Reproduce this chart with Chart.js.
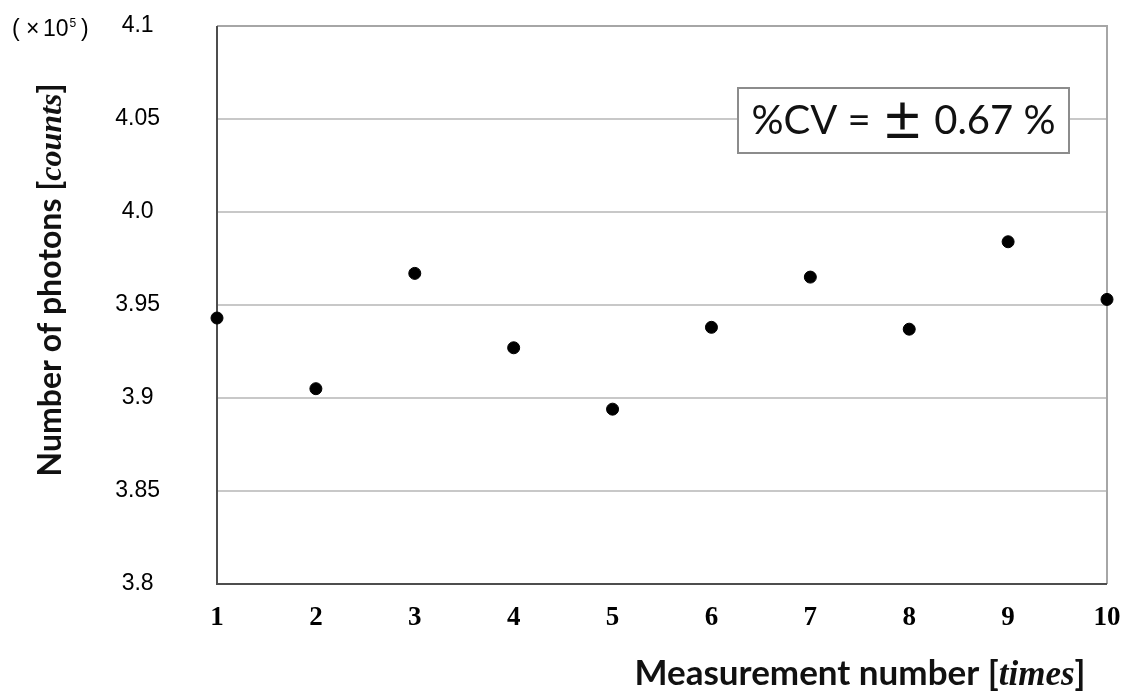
<!DOCTYPE html>
<html>
<head>
<meta charset="utf-8">
<title>Photon count repeatability</title>
<script src="https://cdn.jsdelivr.net/npm/chart.js@4.4.1/dist/chart.umd.min.js"></script>
<style>
  html, body { margin: 0; padding: 0; background: #fff; }
  #wrap { width: 1124px; height: 691px; }
</style>
</head>
<body>
<div id="wrap"><canvas id="photonChart" width="1124" height="691"></canvas></div>
<script>
  // measurement index and photon counts (x 10^5)
  const measurements = [1, 2, 3, 4, 5, 6, 7, 8, 9, 10];
  const photons = [3.943, 3.905, 3.967, 3.927, 3.894, 3.938, 3.965, 3.937, 3.984, 3.953];
  const yTickLabels = ["3.8", "3.85", "3.9", "3.95", "4.0", "4.05", "4.1"];

  const SANS = "'Liberation Sans', Arial, sans-serif";
  const TITLE = "Lato, 'Open Sans', sans-serif";
  const SERIF = "'Liberation Serif', 'Times New Roman', serif";
  const CJK = "'Noto Sans CJK JP', sans-serif";

  // draws a string made of [text, font] pieces one after another
  function drawPieces(ctx, pieces, x, y, align) {
    let total = 0;
    pieces.forEach(function (p) {
      ctx.font = p[1];
      total += ctx.measureText(p[0]).width;
    });
    let cx = align === "center" ? x - total / 2 : x;
    ctx.textAlign = "left";
    pieces.forEach(function (p) {
      ctx.font = p[1];
      ctx.fillText(p[0], cx, y);
      cx += ctx.measureText(p[0]).width;
    });
  }

  const framePlugin = {
    id: "frame",
    beforeDatasetsDraw(chart) {
      const { ctx, chartArea: a } = chart;
      ctx.save();
      ctx.lineWidth = 2;
      ctx.strokeStyle = "#a6a6a6";
      ctx.beginPath();
      ctx.moveTo(a.left, a.top);
      ctx.lineTo(a.right, a.top);
      ctx.lineTo(a.right, a.bottom);
      ctx.stroke();
      ctx.strokeStyle = "#4d4d4d";
      ctx.beginPath();
      ctx.moveTo(a.left, a.top);
      ctx.lineTo(a.left, a.bottom);
      ctx.lineTo(a.right, a.bottom);
      ctx.stroke();
      ctx.restore();
    },
    afterDraw(chart) {
      const { ctx, chartArea: a } = chart;
      ctx.save();
      ctx.fillStyle = "#000";
      ctx.textBaseline = "alphabetic";
      ctx.textAlign = "left";

      // unit note next to the top tick
      ctx.font = "23px " + SANS;
      ctx.fillText("(", 12, 36);
      ctx.fillText("\u00D7", 26, 36);
      ctx.fillText("10", 43, 36);
      const tenEnd = 43 + ctx.measureText("10").width;
      ctx.font = "12px " + SANS;
      ctx.fillText("5", tenEnd + 1, 27);
      ctx.font = "23px " + SANS;
      ctx.fillText(")", 81, 36);

      // x axis title
      ctx.fillStyle = "#111";
      drawPieces(ctx, [
        ["Measurement number [", "bold 35px " + TITLE],
        ["times", "bold italic 35px " + SERIF],
        ["]", "bold 35px " + TITLE]
      ], 860, 685, "center");

      // y axis title
      ctx.save();
      ctx.translate(61, 280);
      ctx.rotate(-Math.PI / 2);
      drawPieces(ctx, [
        ["Number of photons [", "bold 32px " + TITLE],
        ["counts", "bold italic 32px " + SERIF],
        ["]", "bold 32px " + TITLE]
      ], 0, 0, "center");
      ctx.restore();

      // CV annotation box
      const bx = 738, by = a.top + 62;
      const bw = 331, bh = 65;
      ctx.fillStyle = "#fff";
      ctx.fillRect(bx, by, bw, bh);
      ctx.strokeStyle = "#8c8c8c";
      ctx.lineWidth = 2;
      ctx.strokeRect(bx, by, bw, bh);
      ctx.fillStyle = "#111";
      ctx.textBaseline = "middle";
      drawPieces(ctx, [
        ["%CV = ", "40px " + TITLE],
        ["\u00B1", "bold 43px " + CJK],
        [" 0.67 %", "40px " + TITLE]
      ], bx + bw / 2, by + bh / 2 + 1, "center");
      ctx.restore();
    }
  };

  new Chart(document.getElementById("photonChart"), {
    type: "scatter",
    data: {
      datasets: [
        {
          label: "Photons",
          data: measurements.map((m, i) => ({ x: m, y: photons[i] })),
          backgroundColor: "#000",
          borderColor: "#000",
          pointRadius: 6,
          pointHoverRadius: 6,
          clip: false,
        },
      ],
    },
    options: {
      responsive: false,
      animation: false,
      layout: { padding: { top: 26, right: 17, bottom: 0, left: 0 } },
      plugins: { legend: { display: false }, tooltip: { enabled: false } },
      scales: {
        x: {
          type: "linear",
          min: 1,
          max: 10,
          border: { display: false },
          grid: { display: false, drawTicks: false },
          ticks: {
            stepSize: 1,
            padding: 18,
            color: "#000",
            font: { family: SERIF, size: 27, weight: "bold" },
          },
          afterFit(axis) {
            axis.height = 107;
            axis.paddingLeft = 0;
            axis.paddingRight = 0;
          },
        },
        y: {
          min: 3.8,
          max: 4.1,
          border: { display: false },
          grid: {
            drawTicks: false,
            lineWidth: 2,
            color: (c) =>
              c.index === 0 || c.index === yTickLabels.length - 1 ? "rgba(0,0,0,0)" : "#c8c8c8",
          },
          ticks: {
            stepSize: 0.05,
            padding: 57,
            crossAlign: "center",
            color: "#000",
            font: { family: SANS, size: 23 },
            callback: (value, index) => yTickLabels[index],
          },
          afterFit(axis) {
            axis.width = 217;
            axis.paddingTop = 0;
            axis.paddingBottom = 0;
          },
        },
      },
    },
    plugins: [framePlugin],
  });
</script>
</body>
</html>
